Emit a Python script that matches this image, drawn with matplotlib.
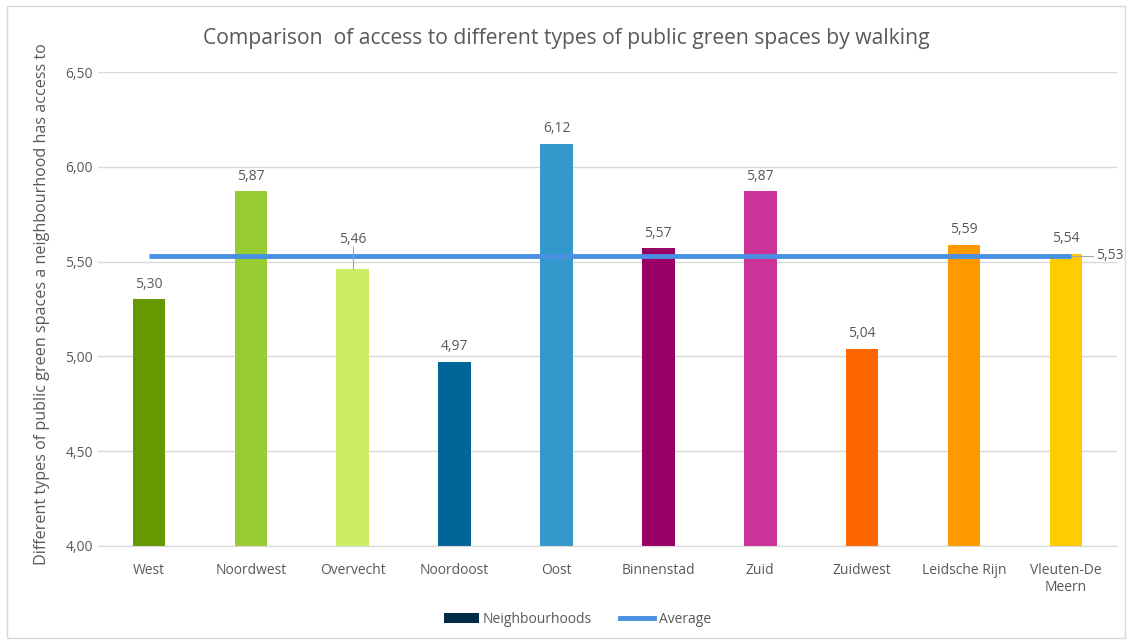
import matplotlib.pyplot as plt
from matplotlib.patches import Rectangle
from matplotlib.lines import Line2D
from matplotlib.patches import Patch

neighbourhoods = ["West", "Noordwest", "Overvecht", "Noordoost", "Oost",
                  "Binnenstad", "Zuid", "Zuidwest", "Leidsche Rijn",
                  "Vleuten-De\nMeern"]
scores = [5.30, 5.87, 5.46, 4.97, 6.12, 5.57, 5.87, 5.04, 5.59, 5.54]
average = 5.53
bar_colors = ["#669900", "#99CC33", "#CCEE66", "#006699", "#3399CC",
              "#990066", "#CC3399", "#FF6600", "#FF9900", "#FFCC00"]
yticks = [4.00, 4.50, 5.00, 5.50, 6.00, 6.50]

TEXT = "#595959"
plt.rcParams['font.family'] = ['Open Sans', 'DejaVu Sans']

fig = plt.figure(figsize=(11.32, 6.43), dpi=100)
fig.patches.append(Rectangle((0.006, 0.008), 0.988, 0.982, transform=fig.transFigure,
                             fill=False, edgecolor="#d9d9d9", linewidth=1.0))
ax = fig.add_axes([0.0866, 0.151, 0.9, 0.737])

x = list(range(len(neighbourhoods)))
ax.bar(x, [s - 4.0 for s in scores], bottom=4.0, width=0.32, color=bar_colors, zorder=2)
ax.plot([x[0], x[-1] + 0.05], [average, average], color="#4A90E2", linewidth=3.5,
        solid_capstyle="butt", zorder=3)

for xi, s in zip(x, scores):
    label_y = s + 0.04
    if xi == 2:
        # lift the Overvecht label above the average line
        label_y = 5.575
        ax.plot([xi, xi], [s, label_y], color="#a6a6a6", linewidth=0.8, zorder=4)
    ax.text(xi, label_y, f"{s:.2f}".replace(".", ","), ha="center", va="bottom",
            fontsize=10, color=TEXT)
ax.plot([x[-1] + 0.05, x[-1] + 0.27], [average, average], color="#a6a6a6", linewidth=0.8)
ax.text(x[-1] + 0.3, average, "5,53", ha="left", va="center", fontsize=10, color=TEXT)

ax.set_xlim(-0.5, len(x) - 0.5)
ax.set_ylim(4.0, 6.5)
ax.set_yticks(yticks)
ax.set_yticklabels([f"{t:.2f}".replace(".", ",") for t in yticks])
ax.set_xticks(x)
ax.set_xticklabels(neighbourhoods)
ax.tick_params(axis="both", length=0, colors=TEXT, labelsize=10)
ax.tick_params(axis="x", pad=12)
ax.grid(axis="y", color="#d9d9d9", linewidth=1.0, zorder=0)
for side in ["top", "right", "left"]:
    ax.spines[side].set_visible(False)
ax.spines["bottom"].set_color("#d9d9d9")
ax.set_ylabel("Different types of public green spaces a neighbourhood has access to",
              fontsize=11.6, color=TEXT)
ax.yaxis.set_label_coords(-0.047, 0.51)

fig.text(0.5, 0.94, "Comparison  of access to different types of public green spaces by walking",
         ha="center", va="center", fontsize=15.2, color=TEXT)

handles = [Patch(facecolor="#002B45", label="Neighbourhoods"),
           Line2D([0], [0], color="#4A90E2", linewidth=3.5, label="Average")]
fig.legend(handles=handles, loc="center", bbox_to_anchor=(0.51, 0.037), ncol=2,
           frameon=False, fontsize=10, labelcolor=TEXT, handlelength=2.5,
           handletextpad=0.3, columnspacing=2.0)

fig.savefig("out.png", dpi=100)
